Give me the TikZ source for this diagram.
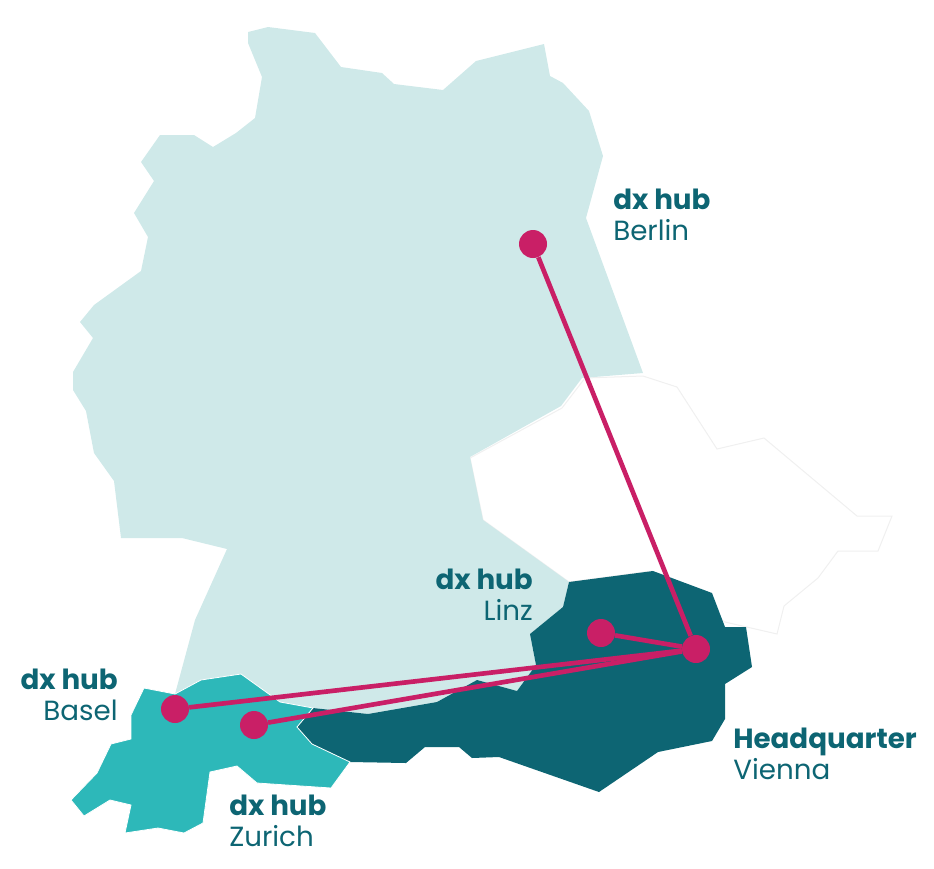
\documentclass[tikz,border=0pt]{standalone}
\usepackage{fontspec}
\setmainfont{Poppins}
\definecolor{paleteal}{HTML}{CFE9E9}
\definecolor{darkteal}{HTML}{0D6573}
\definecolor{swissteal}{HTML}{2DB8B9}
\definecolor{hubpink}{HTML}{C91F66}
\definecolor{faintline}{HTML}{F0F0F0}
\begin{document}
\begin{tikzpicture}[x=0.75pt, y=-0.75pt,
  hub/.style={circle, fill=hubpink, inner sep=0pt, minimum size=21pt},
  link/.style={draw=hubpink, line width=3.5pt},
  place/.style={text=darkteal, font=\fontsize{20.8}{23.5}\selectfont, inner sep=0pt}]
\useasboundingbox (0,0) rectangle (934,868);
\filldraw[fill=white, draw=faintline, line width=0.75pt] (585,378) -- (643,376) -- (677,387) -- (717,449) -- (764,438) -- (857,516) -- (892,516) -- (878,551) -- (838,551) -- (818,578) -- (784,606) -- (777,634) -- (725,622) -- (652,571) -- (569,582) -- (483,520) -- (470,458) -- (562,408) -- cycle;
\fill[paleteal] (248,32) -- (268,27) -- (315,33) -- (341,67) -- (382,73) -- (394,84) -- (443,90) -- (476,61) -- (544,44) -- (550,76) -- (563,83) -- (589,111) -- (603,156) -- (586,218) -- (643,373) -- (582,378) -- (561,406) -- (470,457) -- (483,520) -- (569,582) -- (563,607) -- (530,634) -- (536,665) -- (517,691) -- (477,680) -- (437,702) -- (368,714) -- (313,708) -- (280,702) -- (241,674) -- (201,680) -- (175,694) -- (195,620) -- (227,549) -- (182,538) -- (121,538) -- (114,481) -- (94,453) -- (86,411) -- (73,390) -- (73,372) -- (93,338) -- (80,322) -- (94,305) -- (141,271) -- (148,237) -- (134,213) -- (154,181) -- (141,162) -- (160,135) -- (194,135) -- (213,147) -- (236,133) -- (255,118) -- (262,77) -- (248,43) -- cycle;
\fill[darkteal] (569,582) -- (653,571) -- (712,593) -- (725,627) -- (746,627) -- (752,667) -- (725,684) -- (725,719) -- (712,741) -- (658,752) -- (599,792) -- (499,757) -- (472,758) -- (459,747) -- (425,747) -- (406,763) -- (350,762) -- (312,744) -- (297,727) -- (313,708) -- (368,714) -- (437,702) -- (477,680) -- (517,691) -- (536,665) -- (530,634) -- (563,607) -- cycle;
\filldraw[fill=swissteal, draw=white, line width=0.6pt] (144,688) -- (175,694) -- (201,680) -- (241,674) -- (280,702) -- (313,708) -- (297,727) -- (312,744) -- (350,762) -- (331,788) -- (257,783) -- (237,766) -- (210,772) -- (203,823) -- (184,833) -- (158,828) -- (125,833) -- (131,805) -- (110,800) -- (84,816) -- (71,800) -- (97,773) -- (111,744) -- (131,739) -- (131,715) -- cycle;
\node[hub] (berlin) at (533,244) {};
\node[hub] (linz) at (601,633) {};
\node[hub] (vienna) at (696,649) {};
\node[hub] (basel) at (175,709) {};
\node[hub] (zurich) at (254,725) {};
\draw[link] (vienna) -- (berlin);
\draw[link] (vienna) -- (linz);
\draw[link] (vienna) -- (basel);
\draw[link] (vienna) -- (zurich);
\node[place, align=left, anchor=west] (berlinlabel) at (613,215) {\textbf{dx hub}\\Berlin};
\node[place, align=right, anchor=east] (linzlabel) at (533,595) {\textbf{dx hub}\\Linz};
\node[place, align=right, anchor=east] (basellabel) at (118,695) {\textbf{dx hub}\\Basel};
\node[place, align=left, anchor=west] (zurichlabel) at (229,821) {\textbf{dx hub}\\Zurich};
\node[place, align=left, anchor=west] (viennalabel) at (733,754) {\textbf{Headquarter}\\Vienna};
\end{tikzpicture}
\end{document}
